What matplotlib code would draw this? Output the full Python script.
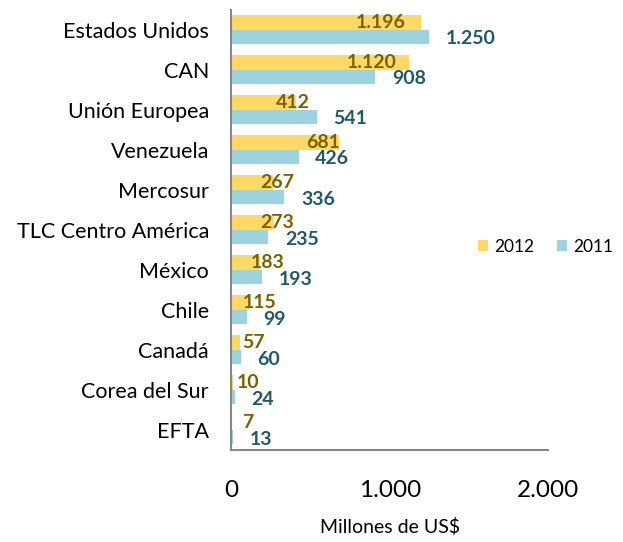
import matplotlib.pyplot as plt
import numpy as np

plt.rcParams['font.family'] = ['Lato', 'DejaVu Sans']

paises = ['Estados Unidos', 'CAN', 'Unión Europea', 'Venezuela', 'Mercosur',
          'TLC Centro América', 'México', 'Chile', 'Canadá', 'Corea del Sur', 'EFTA']
v2012 = [1196, 1120, 412, 681, 267, 273, 183, 115, 57, 10, 7]
v2011 = [1250, 908, 541, 426, 336, 235, 193, 99, 60, 24, 13]


def fmt(v):
    return f'{v:,}'.replace(',', '.')


c2012 = '#FFD966'
c2011 = '#9DD3DF'
t2012 = '#7F6000'
t2011 = '#215968'

fig = plt.figure(figsize=(6.23, 5.42), dpi=100)
ax = fig.add_axes([0.371, 0.170, 0.509, 0.812])

y = np.arange(len(paises))
h = 0.36
ax.barh(y - h / 2, v2012, height=h, color=c2012, label='2012')
ax.barh(y + h / 2, v2011, height=h, color=c2011, label='2011')

# etiquetas de datos (2012 cerca del extremo, 2011 a la derecha)
for yi, v in zip(y, v2012):
    dx = (16 - 0.047 * v) * 0.72
    ax.annotate(fmt(v), (v, yi - h / 2), xytext=(dx, 0), textcoords='offset points',
                ha='center', va='center', fontsize=14, fontweight='bold', color=t2012)
for yi, v in zip(y, v2011):
    ax.annotate(fmt(v), (v, yi + h / 2 + 0.05), xytext=(12, 0), textcoords='offset points',
                ha='left', va='center', fontsize=14, fontweight='bold', color=t2011)

ax.set_yticks(y)
ax.set_yticklabels(paises, fontsize=15.5)
ax.set_ylim(len(paises) - 0.5, -0.5)
ax.set_xlim(0, 2000)
ax.set_xticks([0, 1000, 2000])
ax.set_xticklabels(['0', '1.000', '2.000'], fontsize=17.5)
ax.tick_params(axis='both', length=0)
ax.tick_params(axis='x', pad=22)
ax.tick_params(axis='y', pad=16)

for s in ['top', 'right']:
    ax.spines[s].set_visible(False)
for s in ['left', 'bottom']:
    ax.spines[s].set_color('#868686')
    ax.spines[s].set_linewidth(1.5)

ax.set_xlabel('Millones de US$', fontsize=14, labelpad=12)

fig.legend(loc='center left', bbox_to_anchor=(0.767, 0.545), ncol=2, frameon=False,
           fontsize=12.5, handlelength=0.6, handleheight=0.6, columnspacing=1.3,
           handletextpad=0.35, borderaxespad=0, borderpad=0)

fig.savefig('out.png', dpi=100)
